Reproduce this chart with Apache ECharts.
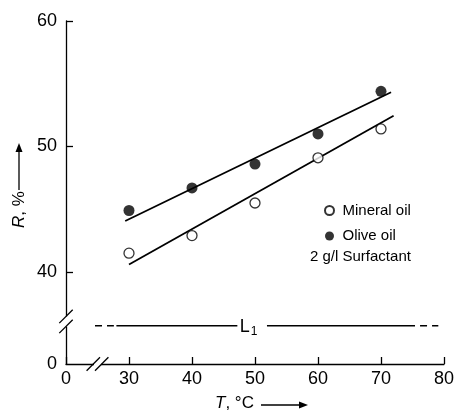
<!DOCTYPE html>
<html>
<head>
<meta charset="utf-8">
<script src="https://cdn.jsdelivr.net/npm/echarts@6/dist/echarts.min.js"></script>
<style>
  html, body { margin: 0; padding: 0; background: #fff; }
  #chart { width: 457px; height: 414px; }
</style>
</head>
<body>
<div id="chart"></div>
<script>
// Retention R (%) versus temperature T (°C), 2 g/l surfactant
const temps = [30, 40, 50, 60, 70];
const mineralOil = [41.5, 42.9, 45.5, 49.1, 51.4];
const oliveOil = [44.9, 46.7, 48.6, 51.0, 54.4];

// regression lines (end points in data units)
const mineralFit = [[30.0, 40.6], [72.0, 52.45]];
const oliveFit = [[29.4, 44.06], [71.6, 54.32]];

// reference level L1 (below the axis break)
const l1Level = 35.72;
const l1Solid = [[28.0, 47.2], [51.9, 75.4]];
const l1Dashed = [[24.6, 27.6], [76.2, 79.1]];
const l1LabelX = 49.5;

// axis layout: both axes are broken, the origin carries the "0" labels
const xMin = 20, xMax = 80;
const yBase = 32.67, yMax = 60;
const yTickValues = [40, 50, 60];
const xBreakAt = 25.0;
const yBreakAt = 36.06;

const tickFont = "'Liberation Sans', Arial, sans-serif";
const textFont = "'Liberation Sans', Arial, sans-serif";

const chart = echarts.init(document.getElementById('chart'), null, { renderer: 'canvas' });

function pairs(xs, ys) { return xs.map((x, i) => [x, ys[i]]); }

const seriesList = [
  {
    name: 'mineralFit', type: 'line', data: mineralFit, symbol: 'none',
    lineStyle: { color: '#000', width: 1.8 }, silent: true, z: 2
  },
  {
    name: 'oliveFit', type: 'line', data: oliveFit, symbol: 'none',
    lineStyle: { color: '#000', width: 1.8 }, silent: true, z: 2
  },
  {
    name: 'Mineral oil', type: 'scatter', data: pairs(temps, mineralOil),
    symbol: 'circle', symbolSize: 10,
    itemStyle: { color: '#fff', borderColor: '#000', borderWidth: 1.3 }, z: 3
  },
  {
    name: 'Olive oil', type: 'scatter', data: pairs(temps, oliveOil),
    symbol: 'circle', symbolSize: 11,
    itemStyle: { color: '#000', borderColor: '#000', borderWidth: 0 }, z: 3
  }
];

l1Solid.forEach((seg, i) => {
  seriesList.push({
    name: 'l1s' + i, type: 'line', symbol: 'none', silent: true,
    data: [[seg[0], l1Level], [seg[1], l1Level]],
    lineStyle: { color: '#000', width: 1.6 }
  });
});
l1Dashed.forEach((seg, i) => {
  seriesList.push({
    name: 'l1d' + i, type: 'line', symbol: 'none', silent: true,
    data: [[seg[0], l1Level], [seg[1], l1Level]],
    lineStyle: { color: '#000', width: 1.6, type: [7, 5] }
  });
});

// L1 label, anchored at its data position
seriesList.push({
  name: 'l1Label', type: 'custom', silent: true, clip: false, z: 4,
  data: [[l1LabelX, l1Level]],
  renderItem: function (params, api) {
    const p = api.coord([api.value(0), api.value(1)]);
    return {
      type: 'group',
      children: [
        {
          type: 'text', x: p[0] - 2, y: p[1] + 1,
          style: { text: 'L', fontFamily: textFont, fontSize: 18, fill: '#000', align: 'right', verticalAlign: 'middle' }
        },
        {
          type: 'text', x: p[0] - 1, y: p[1] + 6,
          style: { text: '1', fontFamily: textFont, fontSize: 12, fill: '#000', align: 'left', verticalAlign: 'middle' }
        }
      ]
    };
  }
});

// break marks "//" on both axes
seriesList.push({
  name: 'breaks', type: 'custom', silent: true, clip: false, z: 5,
  data: [[xMin, yBreakAt, 0], [xBreakAt, yBase, 1]],
  renderItem: function (params, api) {
    const p = api.coord([api.value(0), api.value(1)]);
    const vertical = api.value(2) === 0;
    const h = 6.7;
    const lineStyle = { stroke: '#000', lineWidth: 1.3 };
    const children = [];
    if (vertical) {
      children.push({ type: 'rect', shape: { x: p[0] - 3, y: p[1] - 5, width: 6, height: 10 }, style: { fill: '#fff' } });
      [-5, 5].forEach(d => {
        children.push({ type: 'line', shape: { x1: p[0] - h, y1: p[1] + d + h, x2: p[0] + h, y2: p[1] + d - h }, style: lineStyle });
      });
    } else {
      children.push({ type: 'rect', shape: { x: p[0] - 3.5, y: p[1] - 3, width: 7, height: 6 }, style: { fill: '#fff' } });
      [-4.2, 4.2].forEach(d => {
        children.push({ type: 'line', shape: { x1: p[0] + d - h, y1: p[1] + h, x2: p[0] + d + h, y2: p[1] - h }, style: lineStyle });
      });
    }
    return { type: 'group', children: children };
  }
});

const option = {
  backgroundColor: '#fff',
  animation: false,
  grid: { left: 66, top: 21, right: 11, bottom: 50, containLabel: false },
  xAxis: {
    type: 'value', min: xMin, max: xMax, interval: 10,
    axisLine: { show: true, lineStyle: { color: '#000', width: 1.3 } },
    axisTick: { show: true, inside: true, length: 7, lineStyle: { color: '#000', width: 1.3 } },
    splitLine: { show: false },
    axisLabel: {
      margin: 6, color: '#000', fontFamily: tickFont, fontSize: 18,
      formatter: v => (v === xMin ? '0' : String(v))
    }
  },
  yAxis: {
    type: 'value', min: yBase, max: yMax,
    axisLine: { show: true, lineStyle: { color: '#000', width: 1.3 } },
    axisTick: { show: true, inside: true, length: 7, customValues: yTickValues, lineStyle: { color: '#000', width: 1.3 } },
    splitLine: { show: false },
    axisLabel: {
      margin: 9, color: '#000', fontFamily: tickFont, fontSize: 18,
      customValues: [yBase].concat(yTickValues),
      formatter: v => (v < 40 ? '0' : String(v))
    }
  },
  legend: {
    data: ['Mineral oil', 'Olive oil'],
    orient: 'vertical', left: 319, top: 198, itemGap: 10.5,
    itemWidth: 16, itemHeight: 9, icon: 'circle',
    textStyle: { fontFamily: textFont, fontSize: 15, color: '#000' },
    selectedMode: false
  },
  graphic: [
    {
      type: 'text', left: 310, top: 249,
      style: { text: '2 g/l Surfactant', fontFamily: textFont, fontSize: 15, fill: '#000' }
    },
    // x-axis name with arrow
    {
      type: 'text', left: 215, top: 395,
      style: {
        text: '{i|T}, °C', fill: '#000',
        rich: {
          i: { fontFamily: textFont, fontSize: 17, fontStyle: 'italic', fill: '#000' }
        },
        fontFamily: textFont, fontSize: 17
      }
    },
    {
      type: 'line', shape: { x1: 261, y1: 405, x2: 303, y2: 405 },
      style: { stroke: '#000', lineWidth: 1.3 }
    },
    {
      type: 'polygon', shape: { points: [[308, 405], [299, 401.5], [299, 408.5]] },
      style: { fill: '#000' }
    },
    // y-axis name with arrow
    {
      type: 'text', x: 11, y: 228, rotation: Math.PI / 2,
      style: {
        text: '{i|R}, %', fill: '#000',
        rich: {
          i: { fontFamily: textFont, fontSize: 17, fontStyle: 'italic', fill: '#000' }
        },
        fontFamily: textFont, fontSize: 17
      }
    },
    {
      type: 'line', shape: { x1: 19, y1: 190, x2: 19, y2: 149 },
      style: { stroke: '#000', lineWidth: 1.3 }
    },
    {
      type: 'polygon', shape: { points: [[19, 143], [15.5, 152], [22.5, 152]] },
      style: { fill: '#000' }
    }
  ],
  series: seriesList
};

chart.setOption(option);
</script>
</body>
</html>
